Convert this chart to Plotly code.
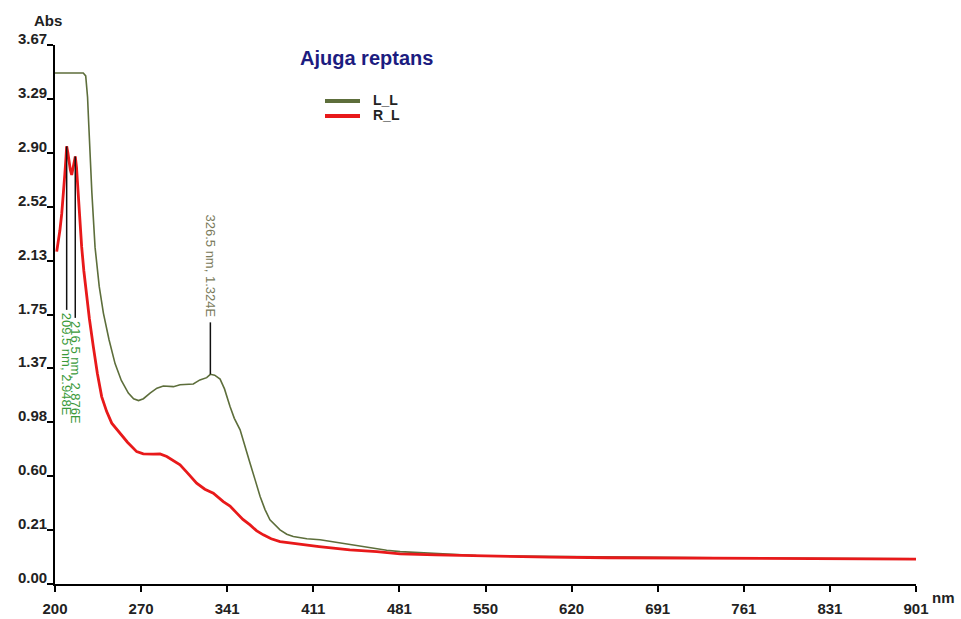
import plotly.graph_objects as go

# ---------------- data ----------------
series_names = ["L_L", "R_L"]

ll_nm = [200, 223, 225, 226.5, 227.5, 228.5, 230, 232.6, 236, 239.4, 244, 248.9, 254,
         259.7, 264, 268, 272, 277.4, 283, 288.2, 296.4, 301.8, 312.6, 318, 323.5, 326.5,
         330, 334.4, 338, 342.5, 346, 350.7, 354.5, 358.8, 363, 367, 371, 375, 383.2, 388.7,
         394, 405, 415.8, 426, 437.5, 447, 459.2, 470, 481, 495, 508, 525, 543, 570,
         600, 650, 691, 730, 761, 800, 831, 870, 901]
ll_abs = [3.47, 3.47, 3.45, 3.30, 3.10, 2.88, 2.62, 2.23, 1.95, 1.76, 1.57, 1.40, 1.28,
          1.19, 1.15, 1.137, 1.15, 1.19, 1.225, 1.241, 1.236, 1.249, 1.255, 1.284, 1.30, 1.324,
          1.318, 1.29, 1.22, 1.094, 1.01, 0.928, 0.81, 0.691, 0.57, 0.453, 0.36, 0.287, 0.216, 0.185,
          0.168, 0.152, 0.145, 0.13, 0.116, 0.10, 0.085, 0.07, 0.061, 0.055, 0.05, 0.04, 0.033, 0.03,
          0.027, 0.023, 0.02, 0.017, 0.014, 0.013, 0.012, 0.011, 0.01]

rl_nm = [201.4, 203, 204, 205.5, 206.8, 208, 209, 209.5, 210.5, 211.5, 212.5, 213.6, 214.5,
         215.5, 216.5, 217.5, 219, 220.5, 221.7, 223.5, 225.8, 228, 231.2, 234.5, 238, 242,
         246.2, 253, 259, 266.5, 271.9, 280, 285.5, 291, 296, 301.8, 308, 315.3, 322, 328.9,
         337, 342.5, 348, 353, 358.8, 364, 369.6, 376, 383.2, 393, 405, 415, 426.6, 440,
         462, 481, 510, 548.5, 603, 650, 700, 761, 831, 901]
rl_abs = [2.198, 2.28, 2.35, 2.47, 2.59, 2.75, 2.875, 2.948, 2.90, 2.82, 2.78, 2.744, 2.78,
          2.84, 2.876, 2.80, 2.59, 2.40, 2.233, 2.06, 1.877, 1.72, 1.521, 1.33, 1.165, 1.06,
          0.976, 0.90, 0.84, 0.773, 0.757, 0.755, 0.757, 0.738, 0.71, 0.679, 0.62, 0.548, 0.505, 0.477,
          0.417, 0.385, 0.335, 0.29, 0.251, 0.21, 0.18, 0.152, 0.132, 0.12, 0.109, 0.097, 0.085, 0.073,
          0.061, 0.045, 0.037, 0.03, 0.021, 0.017, 0.014, 0.01, 0.008, 0.007]

peak_nm = [209.5, 216.5, 326.5]
peak_abs = [2.948, 2.876, 1.324]
peak_labels = ["209.5 nm, 2.948E", "216.5 nm, 2.876E", "326.5 nm, 1.324E"]

x_tick_labels = ["200", "270", "341", "411", "481", "550", "620", "691", "761", "831", "901"]
y_tick_labels = ["3.67", "3.29", "2.90", "2.52", "2.13", "1.75", "1.37", "0.98", "0.60", "0.21", "0.00"]

title_text = "Ajuga reptans"

# ---------------- style ----------------
GREEN = "#5d6e3b"
RED = "#e8191a"
TXT = "#222222"
W, H = 961, 619
L, R, T, B = 55, 45, 45, 35
X0, X1 = 200, 901
Y_TOP, Y_STEP = 3.67, 0.384
Y_BOT = Y_TOP - Y_STEP * (len(y_tick_labels) - 1)
x_step = (X1 - X0) / (len(x_tick_labels) - 1)
y_tickvals = [Y_TOP - i * Y_STEP for i in range(len(y_tick_labels))]


def px_to_paper_x(px):
    return (px - L) / (W - L - R)


def px_to_paper_y(py):
    return (H - B - py) / (H - T - B)


fig = go.Figure()
fig.add_trace(go.Scatter(x=ll_nm, y=ll_abs, mode="lines", name=series_names[0],
                         line=dict(color=GREEN, width=1.6), showlegend=False))
fig.add_trace(go.Scatter(x=rl_nm, y=rl_abs, mode="lines", name=series_names[1],
                         line=dict(color=RED, width=2.8), showlegend=False))

# peak markers (lines + rotated labels)
offsets = [-1.165, -1.15, 0.37]
label_colors = ["#3a9a3a", "#3a9a3a", "#7a7a5a"]
shapes = []
annotations = []
for nm, ab, lab, off, col in zip(peak_nm, peak_abs, peak_labels, offsets, label_colors):
    end = ab + off
    shapes.append(dict(type="line", xref="x", yref="y", x0=nm, x1=nm, y0=ab, y1=end,
                       line=dict(color="#111111", width=1.5)))
    annotations.append(dict(x=nm, y=end, xref="x", yref="y", text=lab, showarrow=False,
                            textangle=90, font=dict(family="Arial", size=13, color=col),
                            xanchor="center", yanchor="top" if off < 0 else "bottom",
                            yshift=-1 if off < 0 else 3))

# y tick labels sitting just above their ticks
for v, t in zip(y_tickvals, y_tick_labels):
    annotations.append(dict(x=px_to_paper_x(49), y=v, xref="paper", yref="y",
                            text="<b>" + t + "</b>", showarrow=False,
                            xanchor="right", yanchor="bottom", yshift=-4,
                            font=dict(family="Arial", size=15, color=TXT)))

# custom legend
leg_cols = [GREEN, RED]
leg_py = [101, 116]
for name, col, py in zip(series_names, leg_cols, leg_py):
    shapes.append(dict(type="line", xref="paper", yref="paper",
                       x0=px_to_paper_x(325), x1=px_to_paper_x(360),
                       y0=px_to_paper_y(py), y1=px_to_paper_y(py),
                       line=dict(color=col, width=4)))
    annotations.append(dict(x=px_to_paper_x(371), y=px_to_paper_y(py - 1), xref="paper", yref="paper",
                            text="<b>" + name + "</b>", showarrow=False, xanchor="left", yanchor="middle",
                            font=dict(family="Arial", size=14, color=TXT)))

annotations.append(dict(x=px_to_paper_x(366), y=px_to_paper_y(58), xref="paper", yref="paper",
                        text="<b>" + title_text + "</b>", showarrow=False, xanchor="center", yanchor="middle",
                        font=dict(family="Arial", size=20, color="#1c1c80")))
annotations.append(dict(x=px_to_paper_x(48), y=px_to_paper_y(21), xref="paper", yref="paper",
                        text="<b>Abs</b>", showarrow=False, xanchor="center", yanchor="middle",
                        font=dict(family="Arial", size=15, color=TXT)))
annotations.append(dict(x=px_to_paper_x(943), y=px_to_paper_y(597), xref="paper", yref="paper",
                        text="<b>nm</b>", showarrow=False, xanchor="center", yanchor="middle",
                        font=dict(family="Arial", size=15, color=TXT)))

fig.update_layout(
    width=W, height=H,
    margin=dict(l=L, r=R, t=T, b=B, pad=0, autoexpand=False),
    paper_bgcolor="white", plot_bgcolor="white",
    shapes=shapes, annotations=annotations,
    xaxis=dict(range=[X0, X1], tickvals=[X0 + i * x_step for i in range(len(x_tick_labels))],
               ticktext=["<b>" + t + "</b>" for t in x_tick_labels], showgrid=False, zeroline=False,
               showline=True, linecolor="black", linewidth=2,
               ticks="outside", ticklen=6, tickwidth=2, tickcolor="black",
               ticklabelstandoff=4, automargin=False,
               tickfont=dict(family="Arial", size=15, color=TXT), fixedrange=True),
    yaxis=dict(range=[Y_BOT, Y_TOP], tickvals=y_tickvals,
               showticklabels=False, showgrid=False, zeroline=False,
               showline=True, linecolor="black", linewidth=2,
               ticks="outside", ticklen=6, tickwidth=2, tickcolor="black",
               automargin=False, fixedrange=True),
    font=dict(family="Arial"),
)

fig.write_html("out.html")
